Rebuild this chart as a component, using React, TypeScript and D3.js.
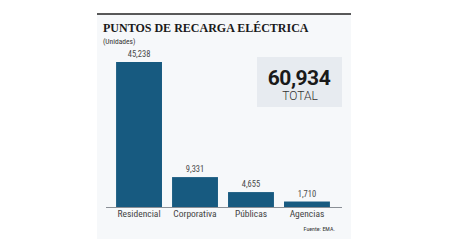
import { useEffect, useRef } from "react"
import * as d3 from "d3"

const categories = ["Residencial", "Corporativa", "Públicas", "Agencias"]
const values = [45238, 9331, 4655, 1710]
const totalValue = 60934
const totalLabel = "TOTAL"
const title = "PUNTOS DE RECARGA ELÉCTRICA"
const unitsLabel = "(Unidades)"
const sourceLabel = "Fuente: EMA."

const W = 449
const H = 252
const BAR = "#175a80"
const NARROW = "'Liberation Sans Narrow', 'Roboto Condensed', Roboto, sans-serif"

export default function App() {
  const svgRef = useRef<SVGSVGElement>(null)

  useEffect(() => {
    if (!svgRef.current) return
    const svg = d3.select(svgRef.current)
    svg.selectAll("*").remove()

    // fondo del panel y filete superior
    svg.append("rect").attr("width", W).attr("height", H).attr("fill", "#ffffff")
    svg
      .append("rect")
      .attr("x", 97)
      .attr("y", 14)
      .attr("width", 254)
      .attr("height", 225)
      .attr("fill", "#f6f8fa")
    svg
      .append("line")
      .attr("x1", 97)
      .attr("x2", 351)
      .attr("y1", 14)
      .attr("y2", 14)
      .attr("stroke", "#222")
      .attr("stroke-width", 1.6)

    svg
      .append("text")
      .attr("x", 103)
      .attr("y", 32)
      .attr("font-family", "'Liberation Serif', serif")
      .attr("font-weight", 700)
      .attr("font-size", 12)
      .attr("fill", "#1a1a1a")
      .text(title)

    svg
      .append("text")
      .attr("x", 103)
      .attr("y", 44)
      .attr("font-family", NARROW)
      .attr("font-size", 7.5)
      .attr("fill", "#333")
      .text(unitsLabel)

    const baseY = 207
    const x = d3
      .scaleBand<string>()
      .domain(categories)
      .range([106, 340])
      .paddingInner(0.18)
      .paddingOuter(0.18)

    const y = d3
      .scaleLinear()
      .domain([0, d3.max(values) as number])
      .range([baseY, 62])

    const g = svg.append("g")

    g.selectAll(".bar")
      .data(values)
      .enter()
      .append("rect")
      .attr("class", "bar")
      .attr("x", (_, i) => x(categories[i]) as number)
      .attr("y", (d) => y(d))
      .attr("width", x.bandwidth())
      .attr("height", (d) => baseY - y(d))
      .attr("fill", BAR)

    g.selectAll(".val")
      .data(values)
      .enter()
      .append("text")
      .attr("class", "val")
      .attr("x", (_, i) => (x(categories[i]) as number) + x.bandwidth() / 2)
      .attr("y", (d) => y(d) - 5)
      .attr("text-anchor", "middle")
      .attr("font-family", NARROW)
      .attr("font-size", 8.5)
      .attr("fill", "#4a4a4a")
      .text((d) => d3.format(",")(d))

    g.append("line")
      .attr("x1", 106)
      .attr("x2", 342)
      .attr("y1", baseY + 0.5)
      .attr("y2", baseY + 0.5)
      .attr("stroke", "#8a8f96")
      .attr("stroke-width", 1)

    g.selectAll(".cat")
      .data(categories)
      .enter()
      .append("text")
      .attr("class", "cat")
      .attr("x", (d) => (x(d) as number) + x.bandwidth() / 2)
      .attr("y", 217)
      .attr("text-anchor", "middle")
      .attr("font-family", NARROW)
      .attr("font-size", 9.5)
      .attr("fill", "#444")
      .text((d) => d)

    // recuadro del total
    svg
      .append("rect")
      .attr("x", 257)
      .attr("y", 57)
      .attr("width", 85)
      .attr("height", 50)
      .attr("fill", "#e7ebf0")
    svg
      .append("text")
      .attr("x", 299)
      .attr("y", 85)
      .attr("text-anchor", "middle")
      .attr("font-family", "Roboto, sans-serif")
      .attr("font-weight", 700)
      .attr("font-size", 21)
      .attr("letter-spacing", -0.5)
      .attr("fill", "#1a1a1a")
      .text(d3.format(",")(totalValue))
    svg
      .append("text")
      .attr("x", 300)
      .attr("y", 100)
      .attr("text-anchor", "middle")
      .attr("font-family", "Roboto, sans-serif")
      .attr("font-weight", 300)
      .attr("font-size", 12)
      .attr("fill", "#333")
      .text(totalLabel)

    svg
      .append("text")
      .attr("x", 335)
      .attr("y", 231)
      .attr("text-anchor", "end")
      .attr("font-family", NARROW)
      .attr("font-size", 6)
      .attr("fill", "#333")
      .text(sourceLabel)
  }, [])

  return (
    <div style={{ position: "fixed", left: 0, top: 0 }}>
      <svg ref={svgRef} width={W} height={H} style={{ display: "block" }} />
    </div>
  )
}
